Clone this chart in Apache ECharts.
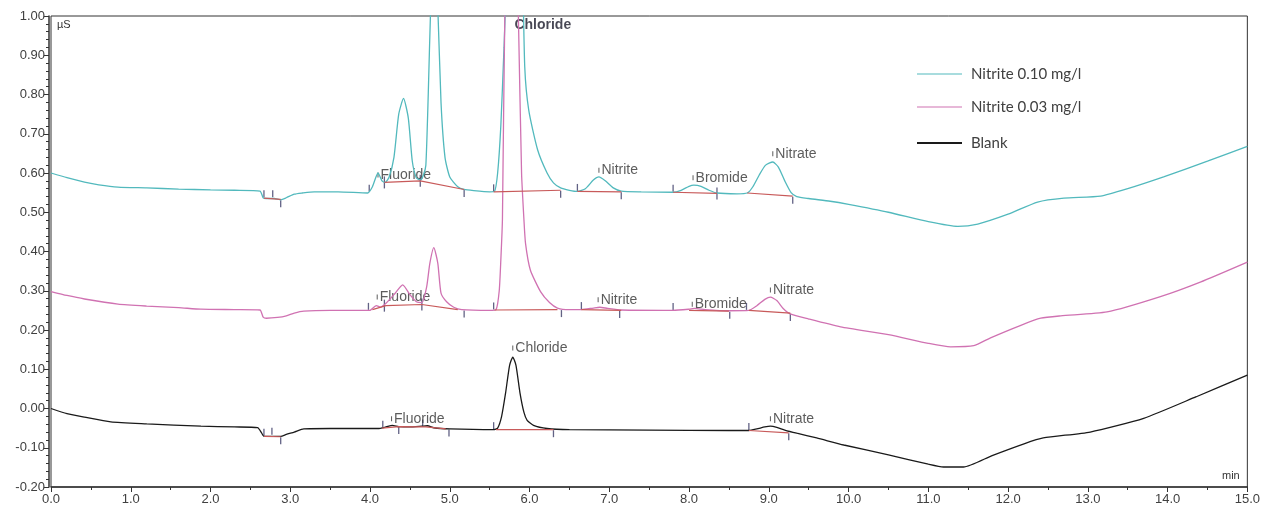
<!DOCTYPE html>
<html>
<head>
<meta charset="utf-8">
<title>Chromatogram</title>
<script src="https://cdn.jsdelivr.net/npm/echarts@6/dist/echarts.min.js"></script>
<style>
  html, body { margin: 0; padding: 0; background: #fff; }
  #main { width: 1263px; height: 508px; }
</style>
</head>
<body>
<div id="main"></div>
<script>
// traces: [time min, conductivity µS]
var cyanTrace = [
  [0, 0.600], [0.2, 0.588], [0.42, 0.577], [0.6, 0.570], [0.84, 0.564], [1.2, 0.562], [1.6, 0.559], [2.0, 0.557],
  [2.3, 0.556], [2.62, 0.554], [2.66, 0.537], [2.7, 0.535], [2.8, 0.535], [2.88, 0.532], [2.95, 0.537], [3.05, 0.546],
  [3.15, 0.549], [3.3, 0.552], [3.6, 0.552], [3.97, 0.549],
  [4.03, 0.565], [4.1, 0.600], [4.15, 0.580], [4.19, 0.576], [4.24, 0.590], [4.3, 0.640], [4.36, 0.750], [4.42, 0.790],
  [4.48, 0.740], [4.53, 0.630], [4.58, 0.588], [4.63, 0.582], [4.67, 0.595], [4.7, 0.620], [4.73, 0.800], [4.76, 1.020],
  [4.8, 1.200], [4.85, 1.020], [4.89, 0.780], [4.94, 0.640], [5.0, 0.590], [5.1, 0.565], [5.18, 0.558], [5.3, 0.555],
  [5.5, 0.552], [5.56, 0.553], [5.6, 0.600], [5.64, 0.720], [5.68, 0.920], [5.72, 1.150], [5.82, 1.600], [5.91, 1.150],
  [5.94, 0.870], [5.99, 0.760], [6.1, 0.660], [6.22, 0.600], [6.3, 0.575], [6.39, 0.562], [6.5, 0.556],
  [6.6, 0.553], [6.7, 0.560], [6.8, 0.582], [6.87, 0.590], [6.95, 0.580], [7.05, 0.562], [7.15, 0.554], [7.4, 0.552],
  [7.8, 0.551], [7.9, 0.556], [8.0, 0.566], [8.06, 0.569], [8.15, 0.566], [8.25, 0.556], [8.35, 0.549], [8.6, 0.547],
  [8.73, 0.549], [8.8, 0.565], [8.88, 0.595], [8.96, 0.620], [9.05, 0.628], [9.12, 0.615], [9.2, 0.580], [9.28, 0.550],
  [9.35, 0.540], [9.5, 0.535], [9.77, 0.528], [10.0, 0.520], [10.5, 0.500], [11.0, 0.476], [11.37, 0.464], [11.62, 0.470],
  [12.0, 0.495], [12.37, 0.526], [12.7, 0.536], [13.16, 0.541], [13.5, 0.560], [13.95, 0.590], [14.5, 0.630], [15, 0.668]
];
var pinkTrace = [
  [0, 0.298], [0.2, 0.288], [0.42, 0.279], [0.84, 0.266], [1.2, 0.261], [1.6, 0.257], [1.88, 0.253], [2.3, 0.252],
  [2.62, 0.251], [2.66, 0.233], [2.7, 0.230], [2.84, 0.232], [2.95, 0.236], [3.05, 0.243], [3.17, 0.248], [3.5, 0.250],
  [4.0, 0.250], [4.03, 0.255], [4.08, 0.262], [4.13, 0.258], [4.2, 0.268], [4.3, 0.290], [4.41, 0.315], [4.5, 0.290],
  [4.58, 0.272], [4.65, 0.270], [4.71, 0.310], [4.75, 0.370], [4.8, 0.410], [4.85, 0.370], [4.89, 0.294], [4.96, 0.272],
  [5.05, 0.258], [5.15, 0.252], [5.5, 0.250], [5.58, 0.252], [5.62, 0.300], [5.64, 0.378], [5.66, 0.480], [5.69, 1.000],
  [5.78, 1.700], [5.86, 1.000], [5.9, 0.600], [5.93, 0.480], [5.95, 0.420], [6.01, 0.353], [6.14, 0.297], [6.25, 0.270],
  [6.35, 0.256], [6.5, 0.252], [6.65, 0.252], [6.8, 0.256], [6.88, 0.258], [6.98, 0.255], [7.15, 0.251], [7.8, 0.250],
  [8.0, 0.253], [8.07, 0.255], [8.2, 0.252], [8.5, 0.249], [8.75, 0.250], [8.85, 0.262], [8.95, 0.278], [9.02, 0.284],
  [9.1, 0.275], [9.18, 0.255], [9.27, 0.241], [9.5, 0.228], [9.9, 0.208], [10.5, 0.188], [11.0, 0.166], [11.28, 0.157],
  [11.57, 0.160], [11.78, 0.180], [12.16, 0.212], [12.41, 0.230], [12.66, 0.236], [13.24, 0.246], [13.91, 0.285],
  [14.41, 0.322], [15, 0.373]
];
var blankTrace = [
  [0, 0.000], [0.2, -0.013], [0.42, -0.022], [0.75, -0.034], [1.2, -0.039], [1.88, -0.045], [2.3, -0.047], [2.59, -0.049],
  [2.64, -0.062], [2.67, -0.071], [2.8, -0.071], [2.88, -0.071], [2.95, -0.066], [3.05, -0.060], [3.17, -0.052],
  [3.5, -0.051], [4.1, -0.051], [4.2, -0.047], [4.28, -0.043], [4.36, -0.046], [4.5, -0.047], [4.65, -0.045],
  [4.72, -0.044], [4.8, -0.049], [5.0, -0.052], [5.55, -0.054], [5.6, -0.050], [5.65, -0.020], [5.7, 0.040],
  [5.75, 0.110], [5.79, 0.131], [5.83, 0.110], [5.88, 0.040], [5.93, -0.010], [5.97, -0.030], [6.05, -0.043],
  [6.22, -0.051], [6.5, -0.054], [7.5, -0.055], [8.5, -0.056], [8.75, -0.056], [8.85, -0.052], [8.95, -0.047],
  [9.02, -0.045], [9.1, -0.048], [9.2, -0.055], [9.35, -0.063], [9.6, -0.075], [9.94, -0.093], [10.5, -0.118],
  [11.0, -0.142], [11.19, -0.149], [11.44, -0.149], [11.8, -0.120], [12.2, -0.090], [12.44, -0.075], [13.03, -0.060],
  [13.7, -0.025], [14.36, 0.030], [15, 0.085]
];

// integration baselines (null splits the segments)
var baseLines = [
  [2.67, 0.536], [2.88, 0.533], null,
  [4.18, 0.576], [4.63, 0.580], [5.18, 0.558], null,
  [5.55, 0.552], [6.39, 0.556], null, [6.6, 0.553], [7.15, 0.552], null,
  [7.8, 0.551], [8.35, 0.548], null, [8.73, 0.549], [9.3, 0.541], null,
  [4.03, 0.252], [4.2, 0.262], [4.65, 0.265], [5.1, 0.252], null,
  [5.56, 0.251], [6.35, 0.252], null, [6.65, 0.252], [7.15, 0.250], null,
  [8.0, 0.250], [8.5, 0.248], null, [8.75, 0.250], [9.27, 0.243], null,
  [2.67, -0.071], [2.88, -0.072], null,
  [4.15, -0.050], [4.36, -0.046], [4.7, -0.047], [4.95, -0.052], null,
  [5.58, -0.054], [6.3, -0.054], null, [8.75, -0.056], [9.25, -0.062]
];

// peak start / end marks
var ticksUp = [
  [2.67, 0.537], [2.78, 0.537], [3.99, 0.551], [5.55, 0.552], [6.6, 0.553], [7.8, 0.551],
  [3.98, 0.250], [5.55, 0.251], [6.65, 0.252], [7.8, 0.250], [8.72, 0.250],
  [2.67, -0.071], [2.77, -0.068], [4.16, -0.050], [4.66, -0.047], [5.55, -0.054], [8.75, -0.056]
];
var ticksDown = [
  [2.88, 0.532], [5.18, 0.558], [6.39, 0.556], [7.15, 0.552], [9.3, 0.541],
  [5.18, 0.251], [6.4, 0.252], [7.13, 0.250], [8.51, 0.248], [9.27, 0.242],
  [2.88, -0.072], [4.36, -0.046], [4.99, -0.052], [6.3, -0.054], [9.25, -0.062]
];
var ticksCross = [
  [4.18, 0.576], [4.63, 0.580], [8.35, 0.548], [4.18, 0.262], [4.65, 0.265]
];

// peak names
var peakNames = ['Fluoride', 'Nitrite', 'Bromide', 'Nitrate',
                 'Fluoride', 'Nitrite', 'Bromide', 'Nitrate',
                 'Fluoride', 'Chloride', 'Nitrate'];
var peakLabelPos = [[4.1, 0.600], [6.87, 0.612], [8.05, 0.593], [9.05, 0.654],
                    [4.09, 0.289], [6.86, 0.282], [8.04, 0.271], [9.02, 0.307],
                    [4.27, -0.021], [5.79, 0.159], [9.02, -0.021]];
var topLabel = 'Chloride';
var topLabelPos = [5.81, 0.977];

var seriesNames = ['Nitrite 0.10 mg/l', 'Nitrite 0.03 mg/l', 'Blank'];
var seriesColors = ['#52b9bd', '#d072b2', '#1a1a1a'];

var chart = echarts.init(document.getElementById('main'));

var labelData = peakLabelPos.map(function (p, i) { return { value: p, name: peakNames[i] }; });

function legendFor(i, top, pad, h) {
  return {
    left: 917, top: top, padding: 0, selectedMode: false,
    itemWidth: 45, itemHeight: h, icon: 'rect',
    data: [{ name: seriesNames[i], itemStyle: { color: seriesColors[i] } }],
    textStyle: { fontFamily: 'Lato', fontSize: 15, color: '#404040', lineHeight: 18, padding: [0, 0, pad, 4] }
  };
}

function trace(i, data) {
  return {
    name: seriesNames[i], type: 'line', data: data, showSymbol: false,
    smooth: 0.2,
    lineStyle: { color: seriesColors[i], width: 1.3 }, itemStyle: { color: seriesColors[i] }
  };
}

var option = {
  animation: false,
  backgroundColor: '#fff',
  grid: { left: 51, right: 15, top: 16, bottom: 21, show: true, borderColor: '#333', borderWidth: 1 },
  legend: [
    legendFor(0, 59, 12, 1),
    legendFor(1, 88, 20, 1),
    legendFor(2, 123, 22, 2)
  ],
  xAxis: {
    type: 'value', min: 0, max: 15, interval: 1,
    axisLine: { onZero: false, lineStyle: { color: '#333', width: 1.5 } },
    axisTick: { length: 5, lineStyle: { color: '#333' } },
    minorTick: { show: true, splitNumber: 2, length: 3, lineStyle: { color: '#333' } },
    splitLine: { show: false },
    axisLabel: { formatter: function (v) { return v.toFixed(1); }, color: '#404040', fontSize: 13, fontFamily: 'Liberation Sans', margin: 6 }
  },
  yAxis: {
    type: 'value', min: -0.2, max: 1.0, interval: 0.1, offset: 2,
    axisLine: { show: true, onZero: false, lineStyle: { color: '#333', width: 1.5 } },
    axisTick: { show: true, length: 5, lineStyle: { color: '#333' } },
    minorTick: { show: true, splitNumber: 5, length: 3, lineStyle: { color: '#333' } },
    splitLine: { show: false },
    axisLabel: { formatter: function (v) { return v.toFixed(2); }, color: '#404040', fontSize: 13, fontFamily: 'Liberation Sans', margin: 4 }
  },
  graphic: [
    { type: 'text', left: 57, top: 19, style: { text: 'µS', fontSize: 11, fontFamily: 'Liberation Sans', fill: '#333' } },
    { type: 'text', left: 1222, top: 470, style: { text: 'min', fontSize: 11, fontFamily: 'Liberation Sans', fill: '#333' } }
  ],
  series: [
    trace(0, cyanTrace),
    trace(1, pinkTrace),
    trace(2, blankTrace),
    { name: 'baseline', type: 'line', data: baseLines, showSymbol: false, connectNulls: false, silent: true,
      lineStyle: { color: '#c85a5a', width: 1.2 } },
    { name: 'ticksUp', type: 'scatter', data: ticksUp, symbol: 'rect', symbolSize: [1.3, 7], symbolOffset: [0, -4], silent: true, itemStyle: { color: '#3b3b66' } },
    { name: 'ticksDown', type: 'scatter', data: ticksDown, symbol: 'rect', symbolSize: [1.3, 7], symbolOffset: [0, 4], silent: true, itemStyle: { color: '#3b3b66' } },
    { name: 'ticksCross', type: 'scatter', data: ticksCross, symbol: 'rect', symbolSize: [1.3, 12], silent: true, itemStyle: { color: '#3b3b66' } },
    { name: 'peaks', type: 'scatter', data: labelData, symbol: 'rect', symbolSize: [1, 5], symbolOffset: [0, 2], silent: true,
      itemStyle: { color: '#333' },
      label: { show: true, position: 'right', distance: 2, formatter: '{b}', color: '#333', fontSize: 14, fontFamily: 'Liberation Sans' } },
    { name: 'top', type: 'scatter', data: [{ value: topLabelPos, name: topLabel }], symbolSize: 0, silent: true,
      label: { show: true, position: 'right', distance: 0, formatter: '{b}', color: '#1a1a2a', fontSize: 14, fontWeight: 'bold', fontFamily: 'Liberation Sans' } }
  ]
};

chart.setOption(option);
</script>
</body>
</html>
